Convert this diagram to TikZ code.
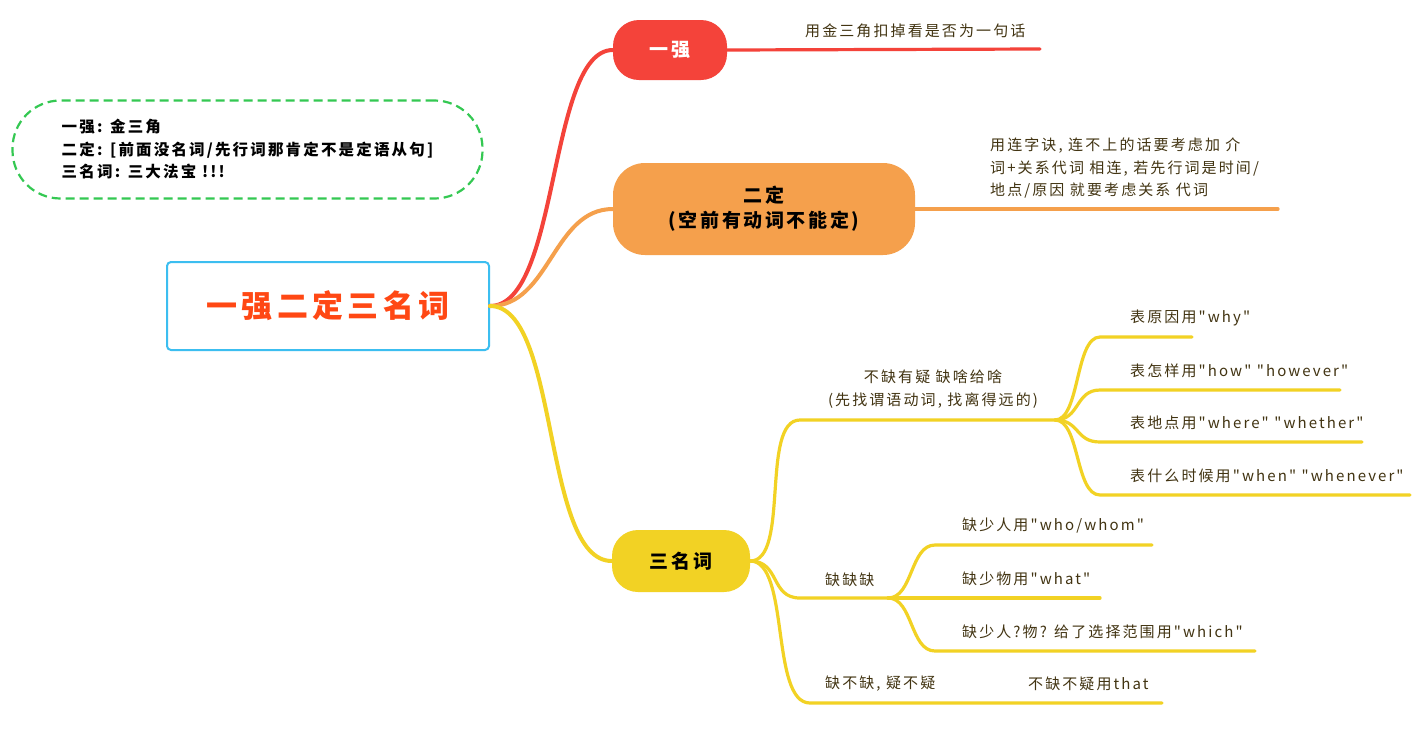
\documentclass[tikz,border=0pt]{standalone}
\usepackage{fontspec}
\setmainfont{Noto Sans CJK SC}[Ligatures=TeXOff, LetterSpace=14]
\usepackage{tikz}
\usetikzlibrary{positioning, calc}
\definecolor{cRed}{RGB}{244,67,58}
\definecolor{cOrange}{RGB}{245,160,76}
\definecolor{cYellow}{RGB}{242,210,36}
\definecolor{cBlue}{RGB}{60,190,240}
\definecolor{cTitle}{RGB}{255,72,20}
\definecolor{cGreen}{RGB}{52,200,82}
\definecolor{cText}{RGB}{66,52,18}
\tikzset{
	topic/.style ={rectangle, rounded corners=26pt, inner sep=0pt, align=center, font=\bfseries\fontsize{19}{25}\selectfont},
	leaf/.style  ={anchor=west, inner sep=0pt, text=cText, font=\fontsize{15}{22.5}\selectfont},
	branch/.style={line width=4pt, line cap=round},
	twig/.style  ={line width=3.2pt, line cap=round, draw=cYellow},
}
\begin{document}
\begin{tikzpicture}[x=1pt, y=-1pt]
	\fill[white] (0,0) rectangle (1413,729);
	\path[use as bounding box] (0,0) rectangle (1413,729);
	% summary and root
	\node[draw=cGreen, dash pattern=on 9pt off 5pt, line width=2.2pt, rounded corners=48pt, minimum width=470pt, minimum height=98pt,
		align=left, font=\bfseries\fontsize{15.5}{22.5}\selectfont] (memo) at (247.5,149.5) {一强: 金三角\\二定: [前面没名词/先行词那肯定不是定语从句]\\三名词: 三大法宝 !!!};
	\node[draw=cBlue, line width=2pt, rounded corners=4pt, minimum width=322pt, minimum height=88pt,
		text=cTitle, font=\bfseries\fontsize{31}{38}\selectfont] (root) at (328,306) {一强二定三名词};
	% main topics
	\node[topic, fill=cRed, text=white, minimum width=114pt, minimum height=60pt] (qiang) at (670,50) {一强};
	\node[topic, fill=cOrange, minimum width=302pt, minimum height=92pt, rounded corners=32pt] (ding) at (764,209) {二定\\(空前有动词不能定)};
	\node[topic, fill=cYellow, minimum width=138pt, minimum height=62pt] (san) at (681,561) {三名词};
	\draw[branch, cRed] (root.east) .. controls +(70,0) and +(-65,0) .. (qiang.west);
	\draw[branch, cOrange] (root.east) .. controls +(60,0) and +(-60,0) .. (ding.west);
	\draw[branch, cYellow] (root.east) .. controls +(70,0) and +(-70,0) .. (san.west);
	% 一强 / 二定 notes
	\coordinate (qiangEnd) at (1040,49);
	\draw[twig, draw=cRed] (qiang.east) -- (qiangEnd);
	\node[leaf] (qiangNote) at (805,31) {用金三角扣掉看是否为一句话};
	\coordinate (dingEnd) at (1278,209);
	\draw[twig, draw=cOrange] (ding.east) -- (dingEnd);
	\node[leaf, align=left] (dingNote) at (990,168) {用连字诀, 连不上的话要考虑加 介\\词+关系代词 相连, 若先行词是时间/\\地点/原因 就要考虑关系 代词};
	% 三名词 branches
	\coordinate (q1) at (800,420); \coordinate (q1end) at (1055,420);
	\draw[twig] (san.east) .. controls +(40,0) and +(-40,0) .. (q1) -- (q1end);
	\node[leaf, anchor=center, align=center] (q1lab) at (933,389) {不缺有疑 缺啥给啥\\(先找谓语动词, 找离得远的)};
	\foreach \i/\y/\e/\t in {1/337/1192/{表原因用"why"}, 2/390/1340/{表怎样用"how" "however"},
			3/442/1362/{表地点用"where" "whether"}, 4/495/1410/{表什么时候用"when" "whenever"}} {
		\coordinate (w\i) at (1100,\y);
		\coordinate (w\i end) at (\e,\y);
		\draw[twig] (q1end) .. controls +(25,0) and +(-25,0) .. (w\i) -- (w\i end);
		\node[leaf] (w\i lab) at (1130,\y-19) {\t};
	}
	\coordinate (q2) at (800,598); \coordinate (q2end) at (888,598);
	\draw[twig] (san.east) .. controls +(30,0) and +(-30,0) .. (q2) -- (q2end);
	\node[leaf] (q2lab) at (825,580) {缺缺缺};
	\foreach \i/\y/\e/\t in {1/545/1152/{缺少人用"who/whom"}, 2/598/1100/{缺少物用"what"}, 3/651/1255/{缺少人?物? 给了选择范围用"which"}} {
		\coordinate (m\i) at (935,\y);
		\coordinate (m\i end) at (\e,\y);
		\draw[twig] (q2end) .. controls +(25,0) and +(-25,0) .. (m\i) -- (m\i end);
		\node[leaf] (m\i lab) at (962,\y-19) {\t};
	}
	\coordinate (q3) at (810,703); \coordinate (q3mid) at (950,703); \coordinate (q3end) at (1162,703);
	\draw[twig] (san.east) .. controls +(40,0) and +(-40,0) .. (q3) -- (q3mid) -- (q3end);
	\node[leaf] (q3lab) at (825,684) {缺不缺, 疑不疑};
	\node[leaf] (q3leaf) at (1028,684) {不缺不疑用that};
\end{tikzpicture}
\end{document}
